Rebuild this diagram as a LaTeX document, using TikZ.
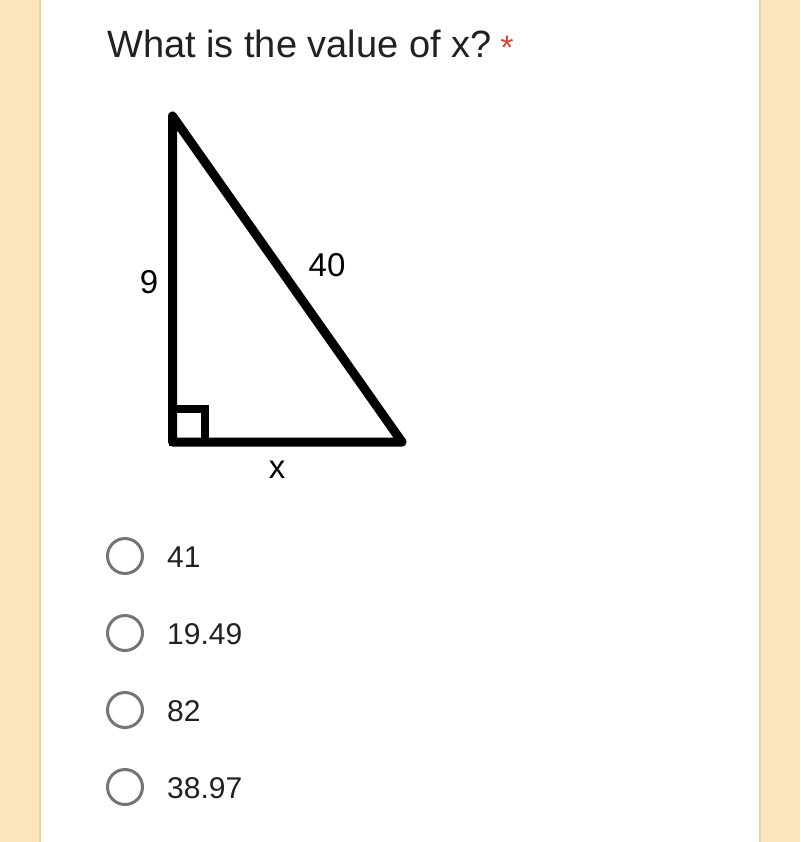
\documentclass[tikz,border=0pt]{standalone}
\usepackage{fontspec}
\setmainfont{Liberation Sans}
\usepackage{tikz}
\usetikzlibrary{positioning}
\definecolor{pagebg}{HTML}{FCE4BC}
\definecolor{pageedge}{HTML}{E9D2A9}
\definecolor{qtext}{HTML}{202124}
\definecolor{reqred}{HTML}{D4483A}
\definecolor{radiogray}{HTML}{757575}

\begin{document}
\begin{tikzpicture}[x=1pt, y=-1pt,
    title/.style={anchor=base west, inner sep=0pt, text=qtext,
      font=\fontsize{38}{44}\selectfont},
    sidelabel/.style={inner sep=0pt, font=\fontsize{33}{38}\selectfont},
    radio/.style={circle, draw=radiogray, line width=3pt,
      minimum size=35pt, inner sep=0pt},
    answer/.style={anchor=west, inner sep=0pt, text=qtext,
      font=\fontsize{30}{34}\selectfont},
    edge/.style={line width=9pt, line join=round, line cap=round}]

  % page and card
  \useasboundingbox (0,0) rectangle (800,842);
  \fill[pagebg] (0,0) rectangle (800,842);
  \fill[white] (40,0) rectangle (760,842);
  \draw[pageedge, line width=1.5pt] (40,0) -- (40,842);
  \draw[pageedge, line width=1.5pt] (760,0) -- (760,842);

  \node[title] (question) at (107,58) {What is the value of x?};
  \node[inner sep=0pt, text=reqred, font=\fontsize{34}{40}\selectfont]
    (required) at (507,48) {*};

  % triangle
  \coordinate (top) at (172.5,116);
  \coordinate (corner) at (172.5,442);
  \coordinate (right) at (402,442);
  \draw[edge] (top) -- (corner) -- (right) -- cycle;
  \draw[line width=8pt] (corner) rectangle (205,409);

  \node[sidelabel] (nine) at (149,282) {9};
  \node[sidelabel] (forty) at (327,265) {40};
  \node[sidelabel] (xlab) at (277,470) {x};

  % choices
  \node[radio] (r1) at (125,556) {};
  \node[radio] (r2) at (125,633) {};
  \node[radio] (r3) at (125,710) {};
  \node[radio] (r4) at (125,787) {};
  \node[answer] (a1) at (167,557) {41};
  \node[answer] (a2) at (167,634) {19.49};
  \node[answer] (a3) at (167,711) {82};
  \node[answer] (a4) at (167,788) {38.97};
\end{tikzpicture}
\end{document}
